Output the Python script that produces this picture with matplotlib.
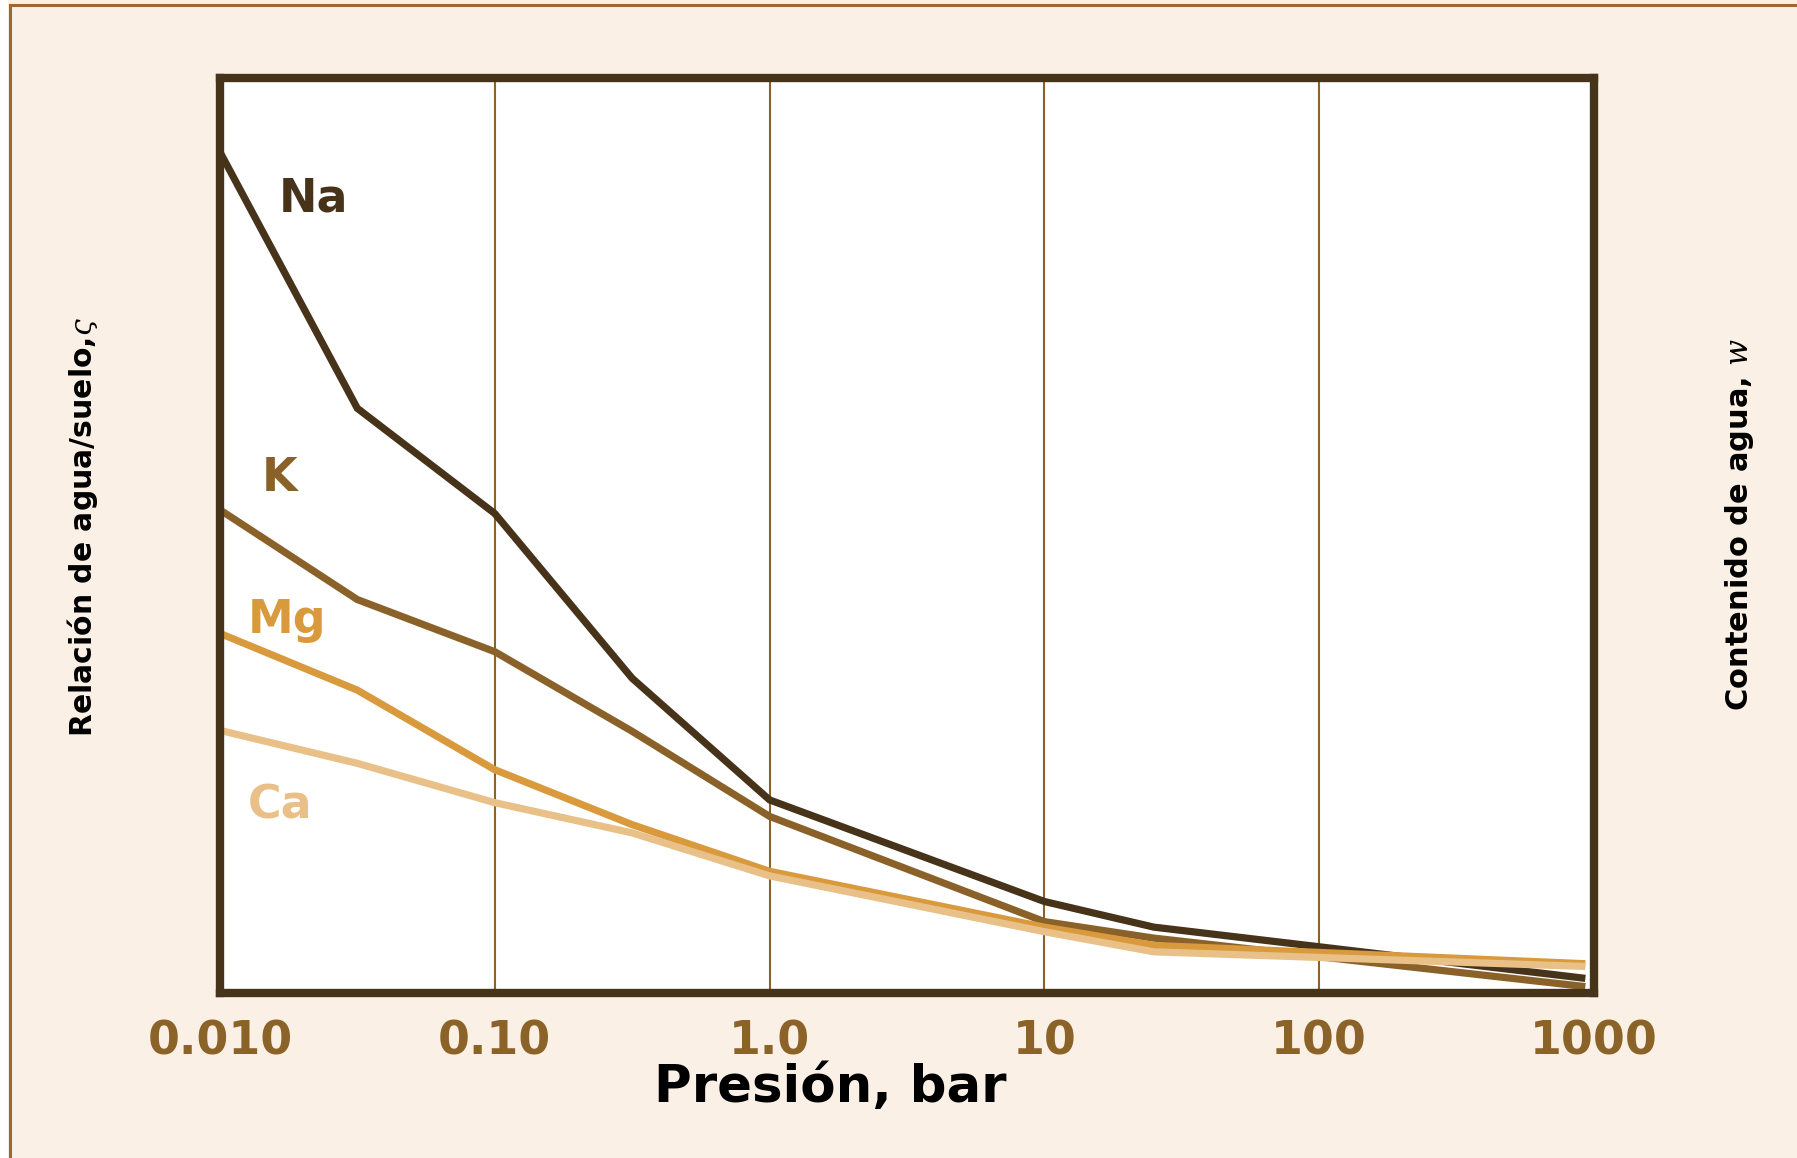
import matplotlib
matplotlib.use("Agg")
import matplotlib.pyplot as plt
from matplotlib.lines import Line2D
from matplotlib.patches import Rectangle
from matplotlib.ticker import FixedLocator, NullLocator, FixedFormatter

plt.rcParams['font.family'] = ['DejaVu Sans']
plt.rcParams['mathtext.fontset'] = 'dejavuserif'

# ---- data (y in relative units 0-100) ----
pressure = [0.01, 0.0316, 0.1, 0.316, 1.0, 10.0, 25.0, 930.0]
na = [91.9, 63.9, 52.4, 34.4, 21.1, 10.0, 7.2, 1.6]
k = [52.8, 43.0, 37.3, 28.6, 19.3, 7.8, 6.0, 0.7]
mg = [39.3, 33.1, 24.4, 18.4, 13.3, 7.2, 5.2, 3.2]
ca = [28.7, 25.1, 20.8, 17.5, 12.8, 6.7, 4.5, 2.9]

series_names = ['Na', 'K', 'Mg', 'Ca']
series_values = [na, k, mg, ca]
series_colors = ['#47331A', '#8A6229', '#D89A3C', '#E8C088']
label_x = [0.0163, 0.0142, 0.0126, 0.0126]
label_y = [85.4, 54.9, 39.3, 19.1]

tick_values = [0.01, 0.1, 1, 10, 100, 1000]
tick_labels = ['0.010', '0.10', '1.0', '10', '100', '1000']

W, H = 1797, 1158
fig = plt.figure(figsize=(W / 100, H / 100), dpi=100)
fig.patch.set_facecolor('#FAF0E6')

# page border decoration
fig.add_artist(Rectangle((0, 0), 8 / W, 1, transform=fig.transFigure,
                         facecolor='white', edgecolor='none'))
fig.add_artist(Line2D([9.5 / W, 9.5 / W], [0, 1 - 4.5 / H], transform=fig.transFigure,
                      color='#9C6A30', lw=2.2))
fig.add_artist(Line2D([9.5 / W, 1], [1 - 4.5 / H, 1 - 4.5 / H], transform=fig.transFigure,
                      color='#9C6A30', lw=2.2))

ax = fig.add_axes([220 / W, 165 / H, 1374 / W, 915 / H])
ax.set_facecolor('white')
ax.set_xscale('log')
ax.set_xlim(0.01, 1000)
ax.set_ylim(0, 100)

for name, vals, col in zip(series_names, series_values, series_colors):
    ax.plot(pressure, vals, color=col, lw=5.2, solid_joinstyle='miter',
            solid_capstyle='butt', zorder=3)

for name, x, y, col in zip(series_names, label_x, label_y, series_colors):
    ax.text(x, y, name, color=col, fontsize=33, fontweight='bold',
            ha='left', va='baseline', zorder=4)

ax.xaxis.set_major_locator(FixedLocator(tick_values))
ax.xaxis.set_major_formatter(FixedFormatter(tick_labels))
ax.xaxis.set_minor_locator(NullLocator())
ax.yaxis.set_major_locator(NullLocator())
ax.yaxis.set_minor_locator(NullLocator())
ax.tick_params(axis='x', length=0, pad=19, labelsize=33, labelcolor='#8B6328')
for lab in ax.get_xticklabels():
    lab.set_fontweight('bold')
ax.grid(axis='x', color='#8B6328', lw=1.5, zorder=1)
ax.set_axisbelow(True)

for sp in ax.spines.values():
    sp.set_color('#47331A')
    sp.set_linewidth(6)
    sp.set_zorder(5)

ax.set_xlabel('Presión, bar', fontsize=37, fontweight='bold', color='black')
ax.xaxis.set_label_coords((830 - 220) / 1374, (993 - 1063) / 915)

ax.set_ylabel('Relación de agua/suelo,$\\varsigma$', fontsize=21.5, fontweight='bold',
              color='black')
ax.yaxis.label.set_va('center')
ax.yaxis.set_label_coords((83 - 220) / 1374, (993 - 527) / 915)

ax2 = ax.twinx()
ax2.set_ylim(0, 100)
ax2.yaxis.set_major_locator(NullLocator())
ax2.yaxis.set_minor_locator(NullLocator())
for sp in ax2.spines.values():
    sp.set_visible(False)
ax2.set_ylabel('Contenido de agua, $\\mathbf{\\mathit{w}}$', fontsize=22, fontweight='bold',
               color='black', rotation=90)
ax2.yaxis.label.set_va('center')
ax2.yaxis.set_label_coords((1739 - 220) / 1374, (993 - 524) / 915)

fig.savefig('out.png', dpi=100, facecolor=fig.get_facecolor())
